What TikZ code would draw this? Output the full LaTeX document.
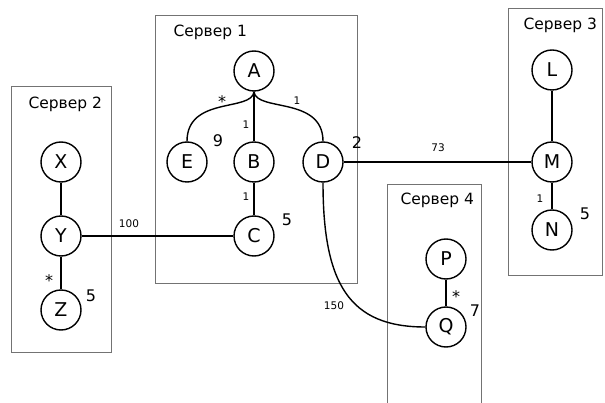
\documentclass[tikz,border=0pt]{standalone}
\usepackage{fontspec}
\setmainfont{DejaVu Sans}
\begin{document}
\begin{tikzpicture}[x=1pt,y=-1pt,
  vert/.style={circle,draw,line width=1.4pt,minimum size=40pt,inner sep=0pt,
    font=\fontsize{19}{21}\selectfont},
  server/.style={draw=black!55,line width=0.9pt},
  edge/.style={line width=1.4pt},
  srvname/.style={anchor=west,font=\fontsize{15.5}{18}\selectfont},
  wt/.style={font=\fontsize{10.5}{12}\selectfont},
  cnt/.style={font=\fontsize{16}{18}\selectfont}]
\useasboundingbox (0,0) rectangle (605,403);

% servers
\draw[server] (155,15) rectangle (357,283);
\draw[server] (11,86) rectangle (111,352);
\draw[server] (508,8) rectangle (602,275);
\draw[server] (387,404) -- (387,184) -- (481,184) -- (481,404);
\node[srvname] (s1) at (170,32) {Сервер 1};
\node[srvname] (s2) at (25,104) {Сервер 2};
\node[srvname] (s3) at (520,25) {Сервер 3};
\node[srvname] (s4) at (397,200) {Сервер 4};

% vertices
\node[vert] (A) at (254,71) {A};
\node[vert] (E) at (187,162) {E};
\node[vert] (B) at (254,162) {B};
\node[vert] (D) at (323,162) {D};
\node[vert] (C) at (254,236) {C};
\node[vert] (X) at (61,162) {X};
\node[vert] (Y) at (61,236) {Y};
\node[vert] (Z) at (61,310) {Z};
\node[vert] (L) at (552,70) {L};
\node[vert] (M) at (552,162) {M};
\node[vert] (N) at (552,230) {N};
\node[vert] (P) at (446,259) {P};
\node[vert] (Q) at (446,327) {Q};

% edges
\draw[edge] (A.south) .. controls (252,112) and (187,96) .. (E.north);
\draw[edge] (A.south) .. controls (256,112) and (323,96) .. (D.north);
\draw[edge] (A) -- (B);
\draw[edge] (B) -- (C);
\draw[edge] (X) -- (Y);
\draw[edge] (Y) -- (Z);
\draw[edge] (L) -- (M);
\draw[edge] (M) -- (N);
\draw[edge] (P) -- (Q);
\draw[edge] (Y) -- (C);
\draw[edge] (D) -- (M);
\draw[edge] (D.south) .. controls (323,285) and (350,327) .. (Q.west);

% weights and counts
\node[cnt] (w1) at (222,102) {*};
\node[wt] (w2) at (297,101) {1};
\node[wt] (w3) at (246,125) {1};
\node[wt] (w4) at (246,197) {1};
\node[cnt] (c1) at (218,141) {9};
\node[cnt] (c2) at (357,143) {2};
\node[cnt] (c3) at (287,220) {5};
\node[wt] (w5) at (129,224) {100};
\node[wt] (w6) at (438,148) {73};
\node[wt] (w7) at (334,306) {150};
\node[cnt] (w8) at (49,281) {*};
\node[cnt] (c4) at (91,296) {5};
\node[cnt] (w9) at (456,297) {*};
\node[cnt] (c5) at (475,311) {7};
\node[wt] (w10) at (540,199) {1};
\node[cnt] (c6) at (585,214) {5};
\end{tikzpicture}
\end{document}
